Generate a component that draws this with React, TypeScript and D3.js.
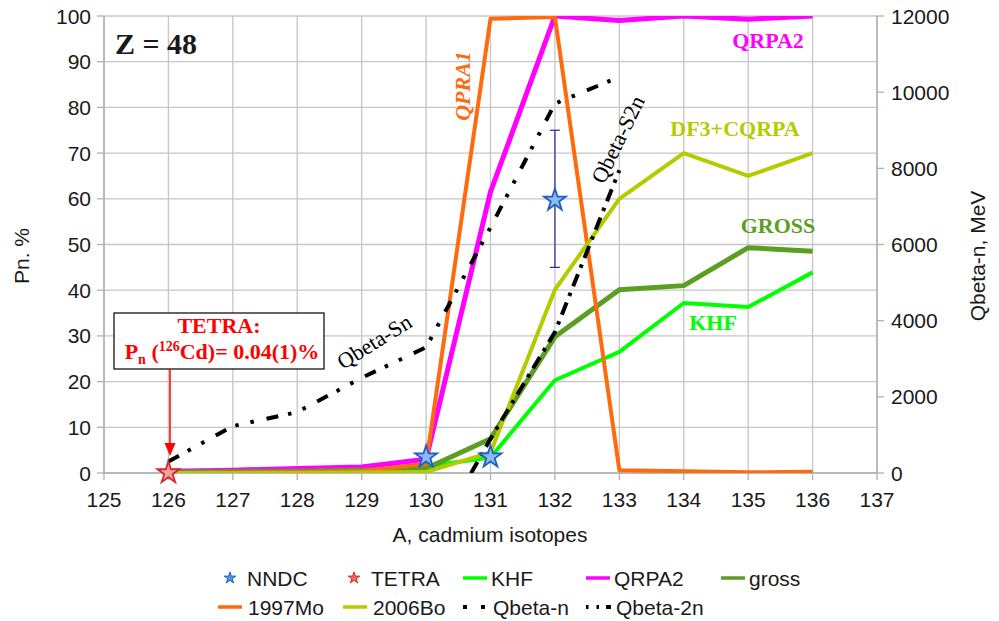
import React from 'react';
import * as d3 from 'd3';

// ---- data ----
const isotopes = [126, 127, 128, 129, 130, 131, 132, 133, 134, 135, 136];
const khf = [0, 0.05, 0.2, 0.6, 1.5, 3.4, 20.3, 26.5, 37.2, 36.3, 43.9];
const qrpa2 = [0.4, 0.6, 1.0, 1.3, 3.0, 61.5, 100, 99, 100, 99.3, 100];
const gross = [0.2, 0.3, 0.4, 0.6, 1.0, 7.5, 29.8, 40.1, 41.0, 49.3, 48.5];
const mo1997 = [0, 0.1, 0.2, 0.4, 2.0, 99.4, 99.8, 0.6, 0.4, 0.15, 0.3];
const bo2006 = [0, 0, 0, 0.1, 0.2, 4.5, 40.1, 60, 70, 65, 70];

const qbetaNA = [126, 127, 128, 129, 130, 131, 132, 133];
const qbetaN = [300, 1230, 1600, 2500, 3300, 6450, 9700, 10400];
const qbeta2nA = [130, 131, 132, 133];
const qbeta2n = [-2100, 900, 3700, 7950];

const nndcA = [130, 131, 132];
const nndc = [3.5, 3.5, 59.7];
const nndcErrLo = [3.5, 3.5, 45];
const nndcErrHi = [3.5, 3.5, 75];
const tetraA = [126];
const tetra = [0.04];

const xTicks = d3.range(125, 138, 1);
const leftTicks = d3.range(0, 101, 10);
const rightTicks = d3.range(0, 12001, 2000);

const legendRow1 = ['NNDC', 'TETRA', 'KHF', 'QRPA2', 'gross'];
const legendRow2 = ['1997Mo', '2006Bo', 'Qbeta-n', 'Qbeta-2n'];

// ---- styles ----
const C = {
  orange: '#ff6a0e',
  magenta: '#ff00ff',
  ygreen: '#b4cb00',
  gross: '#5a9e22',
  khf: '#00ff00',
  black: '#000000',
  grid: '#c6c6c6',
  axis: '#b0b0b0',
  text: '#1a1a1a',
};
const SANS = '"Liberation Sans", Arial, sans-serif';
const SERIF = '"Liberation Serif", "Times New Roman", serif';

const M = { left: 104, right: 877, top: 16, bottom: 473 };

export default function App() {
  const x = d3.scaleLinear().domain([125, 137]).range([M.left, M.right]);
  const y = d3.scaleLinear().domain([0, 100]).range([M.bottom, M.top]);
  const y2 = d3.scaleLinear().domain([0, 12000]).range([M.bottom, M.top]);

  const lineL = (xs: number[], ys: number[]) =>
    d3.line<number>().x((_, i) => x(xs[i])).y((d) => y(d))(ys) || '';
  const lineR = (xs: number[], ys: number[]) =>
    d3.line<number>().x((_, i) => x(xs[i])).y((d) => y2(d))(ys) || '';

  const starBig = d3.symbol(d3.symbolStar, 150)() || '';
  const starSmall = d3.symbol(d3.symbolStar, 42)() || '';

  const seriesLines = [
    { name: 'KHF', d: lineL(isotopes, khf), color: C.khf, w: 4 },
    { name: 'QRPA2', d: lineL(isotopes, qrpa2), color: C.magenta, w: 5 },
    { name: 'gross', d: lineL(isotopes, gross), color: C.gross, w: 5 },
    { name: '1997Mo', d: lineL(isotopes, mo1997), color: C.orange, w: 4 },
    { name: '2006Bo', d: lineL(isotopes, bo2006), color: C.ygreen, w: 4 },
  ];

  const legendX1 = [230, 354, 463, 586, 721];
  const legendX2 = [218, 343, 463, 586];
  const ly1 = 578;
  const ly2 = 607;

  return (
    <svg
      width={999}
      height={621}
      style={{ position: 'absolute', left: 0, top: 0, background: '#fff' }}
    >
      <defs>
        <clipPath id="plot">
          <rect x={M.left} y={M.top} width={M.right - M.left} height={M.bottom - M.top} />
        </clipPath>
      </defs>
      <rect x={0} y={0} width={999} height={621} fill="#fff" />

      {/* grid */}
      {leftTicks.map((t) => (
        <line key={'hg' + t} x1={M.left} x2={M.right} y1={y(t)} y2={y(t)} stroke={C.grid} strokeWidth={1.3} />
      ))}
      {xTicks.map((t) => (
        <line key={'vg' + t} x1={x(t)} x2={x(t)} y1={M.top} y2={M.bottom} stroke={C.grid} strokeWidth={1.3} />
      ))}

      {/* axes */}
      <line x1={M.left} x2={M.left} y1={M.top} y2={M.bottom} stroke={C.axis} strokeWidth={1.5} />
      <line x1={M.right} x2={M.right} y1={M.top} y2={M.bottom} stroke={C.axis} strokeWidth={1.5} />
      <line x1={M.left} x2={M.right} y1={M.bottom} y2={M.bottom} stroke={C.axis} strokeWidth={1.5} />
      {leftTicks.map((t) => (
        <g key={'lt' + t}>
          <line x1={M.left - 7} x2={M.left} y1={y(t)} y2={y(t)} stroke={C.axis} strokeWidth={1.3} />
          <text x={91} y={y(t)} dy="0.36em" textAnchor="end" fontFamily={SANS} fontSize={21} fill={C.text}>
            {t}
          </text>
        </g>
      ))}
      {rightTicks.map((t) => (
        <g key={'rt' + t}>
          <line x1={M.right} x2={M.right + 7} y1={y2(t)} y2={y2(t)} stroke={C.axis} strokeWidth={1.3} />
          <text x={891} y={y2(t)} dy="0.36em" textAnchor="start" fontFamily={SANS} fontSize={21} fill={C.text}>
            {t}
          </text>
        </g>
      ))}
      {xTicks.map((t) => (
        <g key={'xt' + t}>
          <line x1={x(t)} x2={x(t)} y1={M.bottom} y2={M.bottom + 7} stroke={C.axis} strokeWidth={1.3} />
          <text x={x(t)} y={507} textAnchor="middle" fontFamily={SANS} fontSize={21} fill={C.text}>
            {t}
          </text>
        </g>
      ))}

      {/* axis titles */}
      <text x={490} y={542} textAnchor="middle" fontFamily={SANS} fontSize={21} fill={C.text}>
        A, cadmium isotopes
      </text>
      <text transform="translate(29,256) rotate(-90)" textAnchor="middle" fontFamily={SANS} fontSize={21} fill={C.text}>
        Pn. %
      </text>
      <text transform="translate(985,256) rotate(-90)" textAnchor="middle" fontFamily={SANS} fontSize={21} fill={C.text}>
        Qbeta-n, MeV
      </text>

      {/* series */}
      <g clipPath="url(#plot)" fill="none" strokeLinejoin="round">
        {seriesLines.map((s) => (
          <path key={s.name} d={s.d} stroke={s.color} strokeWidth={s.w} />
        ))}
        <path d={lineR(qbetaNA, qbetaN)} stroke={C.black} strokeWidth={4} strokeDasharray="12,10,3.5,12,3.5,13" />
        <path d={lineR(qbeta2nA, qbeta2n)} stroke={C.black} strokeWidth={4} strokeDasharray="13,7,3.5,7" />
      </g>

      {/* NNDC error bars */}
      {nndcA.map((a, i) =>
        nndcErrHi[i] > nndcErrLo[i] ? (
          <g key={'eb' + a} stroke="#2b2b8c" strokeWidth={1.2}>
            <line x1={x(a)} x2={x(a)} y1={y(nndcErrLo[i])} y2={y(nndcErrHi[i])} />
            <line x1={x(a) - 5} x2={x(a) + 5} y1={y(nndcErrLo[i])} y2={y(nndcErrLo[i])} />
            <line x1={x(a) - 5} x2={x(a) + 5} y1={y(nndcErrHi[i])} y2={y(nndcErrHi[i])} />
          </g>
        ) : null
      )}

      {/* stars */}
      {nndcA.map((a, i) => (
        <path key={'nn' + a} d={starBig} transform={`translate(${x(a)},${y(nndc[i])})`} fill="#8dbaf0" stroke="#1f5fc4" strokeWidth={1.8} />
      ))}
      {tetraA.map((a, i) => (
        <path key={'te' + a} d={starBig} transform={`translate(${x(a)},${y(tetra[i])})`} fill="#f4a3a3" stroke="#d42a2a" strokeWidth={1.8} />
      ))}

      {/* in-chart labels */}
      <text x={115} y={54} fontFamily={SERIF} fontWeight="bold" fontSize={30} fill={C.text}>
        Z = 48
      </text>
      <text transform="translate(470,86) rotate(-90)" textAnchor="middle" fontFamily={SERIF} fontWeight="bold" fontStyle="italic" fontSize={22} fill={C.orange}>
        QPRA1
      </text>
      <text x={768} y={48} textAnchor="middle" fontFamily={SERIF} fontWeight="bold" fontSize={22} fill={C.magenta}>
        QRPA2
      </text>
      <text x={735} y={136} textAnchor="middle" fontFamily={SERIF} fontWeight="bold" fontSize={22} fill={C.ygreen}>
        DF3+CQRPA
      </text>
      <text x={778} y={233} textAnchor="middle" fontFamily={SERIF} fontWeight="bold" fontSize={22} fill={C.gross}>
        GROSS
      </text>
      <text x={713} y={330} textAnchor="middle" fontFamily={SERIF} fontWeight="bold" fontSize={22} fill={C.khf}>
        KHF
      </text>
      <text transform="translate(343,370) rotate(-32)" fontFamily={SERIF} fontSize={22} fill={C.black}>
        Qbeta-Sn
      </text>
      <text transform="translate(604,185) rotate(-64)" fontFamily={SERIF} fontSize={22} fill={C.black}>
        Qbeta-S2n
      </text>

      {/* TETRA annotation */}
      <rect x={114} y={313} width={210} height={56} fill="#fff" stroke="#000" strokeWidth={1.2} />
      <text x={219} y={333} textAnchor="middle" fontFamily={SERIF} fontWeight="bold" fontSize={22} fill="#ff0000">
        TETRA:
      </text>
      <text x={222} y={359} textAnchor="middle" fontFamily={SERIF} fontWeight="bold" fontSize={22} fill="#ff0000">
        P
        <tspan fontSize={14} dy={5}>n</tspan>
        <tspan dy={-5}> (</tspan>
        <tspan fontSize={14} dy={-8}>126</tspan>
        <tspan dy={8}>Cd)= 0.04(1)%</tspan>
      </text>
      <line x1={170} x2={170} y1={369} y2={444} stroke="#ff0000" strokeWidth={1.5} />
      <path d="M164.5,443 L175.5,443 L170,456 Z" fill="#ff0000" />

      {/* legend */}
      <g fontFamily={SANS} fontSize={21} fill={C.text}>
        {legendRow1.map((name, i) => {
          const lx = legendX1[i];
          let sym: React.ReactNode = null;
          if (name === 'NNDC')
            sym = <path d={starSmall} transform={`translate(${lx},${ly1})`} fill="#5b93e0" stroke="#1f5fc4" strokeWidth={1} />;
          else if (name === 'TETRA')
            sym = <path d={starSmall} transform={`translate(${lx},${ly1})`} fill="#f06a6a" stroke="#d42a2a" strokeWidth={1} />;
          else {
            const col = name === 'KHF' ? C.khf : name === 'QRPA2' ? C.magenta : C.gross;
            sym = <line x1={lx} x2={lx + 24} y1={ly1} y2={ly1} stroke={col} strokeWidth={3.5} />;
          }
          const tx = name === 'NNDC' || name === 'TETRA' ? lx + 17 : lx + 28;
          return (
            <g key={'l1' + name}>
              {sym}
              <text x={tx} y={ly1} dy="0.36em">{name}</text>
            </g>
          );
        })}
        {legendRow2.map((name, i) => {
          const lx = legendX2[i];
          let sym: React.ReactNode = null;
          if (name === '1997Mo') sym = <line x1={lx} x2={lx + 24} y1={ly2} y2={ly2} stroke={C.orange} strokeWidth={3.5} />;
          else if (name === '2006Bo') sym = <line x1={lx} x2={lx + 24} y1={ly2} y2={ly2} stroke={C.ygreen} strokeWidth={3.5} />;
          else if (name === 'Qbeta-n')
            sym = <line x1={lx} x2={lx + 22} y1={ly2} y2={ly2} stroke={C.black} strokeWidth={4} strokeDasharray="4,14" />;
          else
            sym = <line x1={lx} x2={lx + 25} y1={ly2} y2={ly2} stroke={C.black} strokeWidth={4} strokeDasharray="2.5,8,2.5,7,5" />;
          return (
            <g key={'l2' + name}>
              {sym}
              <text x={lx + 30} y={ly2} dy="0.36em">{name}</text>
            </g>
          );
        })}
      </g>
    </svg>
  );
}
